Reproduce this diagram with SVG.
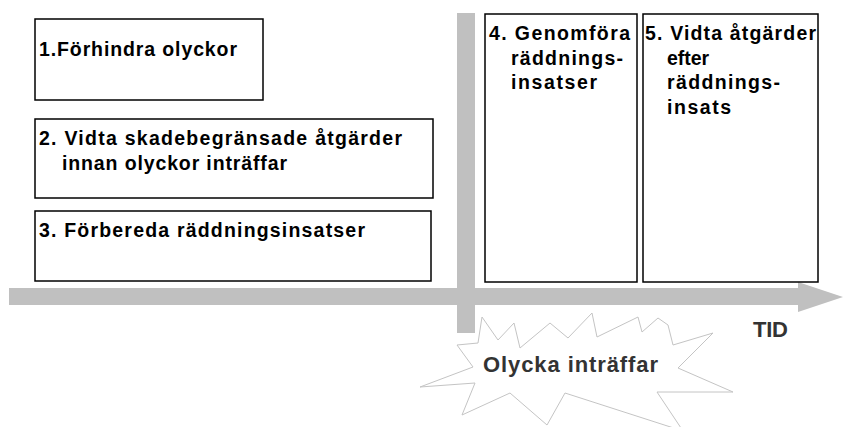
<svg xmlns="http://www.w3.org/2000/svg" width="843" height="427" viewBox="0 0 843 427">
<style>
.box{fill:#fff;stroke:#000;stroke-width:1.5}
.t{font-family:"Liberation Sans",Arial,sans-serif;font-weight:bold;font-size:19.5px;fill:#000}
.big{font-family:"Liberation Sans",Arial,sans-serif;font-weight:bold;font-size:22px;fill:#333}
.bar{fill:#c0c0c0}
</style>
<rect width="843" height="427" fill="#fff"/>
<g id="connectors">
<path class="bar" d="M9,288 H798 V282 L843,297 L798,312 V305 H9 Z"/>
<rect class="bar" x="457" y="13" width="18" height="320"/>
</g>
<g id="n1">
<rect class="box" x="35" y="19" width="228" height="81"/>
<text class="t" x="39" y="56" textLength="198" lengthAdjust="spacing">1.Förhindra olyckor</text>
</g>
<g id="n2">
<rect class="box" x="35" y="119" width="398" height="79"/>
<text class="t" x="39" y="145" textLength="363" lengthAdjust="spacing">2. Vidta skadebegränsade åtgärder</text>
<text class="t" x="62" y="170" textLength="225" lengthAdjust="spacing">innan olyckor inträffar</text>
</g>
<g id="n3">
<rect class="box" x="35" y="211" width="396" height="70"/>
<text class="t" x="39" y="237" textLength="326" lengthAdjust="spacing">3. Förbereda räddningsinsatser</text>
</g>
<g id="n4">
<rect class="box" x="485" y="14" width="152" height="268"/>
<text class="t" x="489" y="40" textLength="141" lengthAdjust="spacing">4. Genomföra</text>
<text class="t" x="511" y="65" textLength="112" lengthAdjust="spacing">räddnings-</text>
<text class="t" x="511" y="89" textLength="86" lengthAdjust="spacing">insatser</text>
</g>
<g id="n5">
<rect class="box" x="643" y="14" width="175" height="268"/>
<text class="t" x="645" y="40" textLength="171" lengthAdjust="spacing">5. Vidta åtgärder</text>
<text class="t" x="667" y="65" textLength="42" lengthAdjust="spacing">efter</text>
<text class="t" x="667" y="89" textLength="113" lengthAdjust="spacing">räddnings-</text>
<text class="t" x="667" y="114" textLength="64" lengthAdjust="spacing">insats</text>
</g>
<g id="tid">
<text class="big" x="753" y="337" fill="#222" textLength="35" lengthAdjust="spacing">TID</text>
</g>
<g id="olycka">
<polygon fill="#fff" stroke="#c4c4c4" stroke-width="1" points="482,317 498,340 514,323 520,348 550,323 568,338 592,313 597,337 638,317 642,332 658,318 668,325 673,345 713,333 678,368 733,392 657,392 683,431 565,393 547,425 510,393 462,415 475,383 420,387 473,367 457,345 478,343"/>
<text class="big" x="483" y="372" textLength="175" lengthAdjust="spacing">Olycka inträffar</text>
</g>
</svg>
